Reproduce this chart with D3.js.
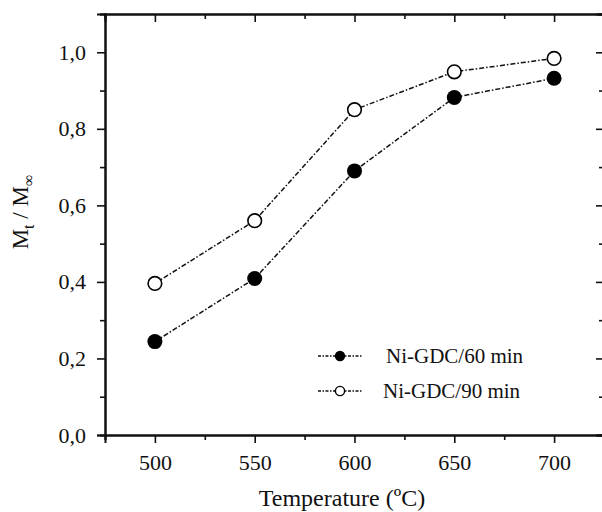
<!DOCTYPE html>
<html>
<head>
<meta charset="utf-8">
<script src="https://cdn.jsdelivr.net/npm/d3@7"></script>
<style>
  html, body { margin: 0; padding: 0; background: #fff; }
  svg text { font-family: "Liberation Serif", "Times New Roman", serif; fill: #111; }
</style>
</head>
<body>
<svg id="chart" width="602" height="512"></svg>
<script>
// Reduction degree vs. temperature for two holding times
const temperatures = [500, 550, 600, 650, 700];
const series60 = [0.244, 0.409, 0.69, 0.882, 0.932];
const series90 = [0.396, 0.56, 0.85, 0.949, 0.984];
const xTicks = [500, 550, 600, 650, 700];
const xMinorTicks = [475, 525, 575, 625, 675, 725];
const yTicks = [0, 0.2, 0.4, 0.6, 0.8, 1.0];
const yMinorTicks = [0.1, 0.3, 0.5, 0.7, 0.9, 1.1];
const legendLabels = ["Ni-GDC/60 min", "Ni-GDC/90 min"];

const svg = d3.select("#chart");
const m = { left: 105, right: 604, top: 14, bottom: 435 };

const x = d3.scaleLinear().domain([475, 725]).range([m.left, m.right]);
const y = d3.scaleLinear().domain([0, 1.1]).range([m.bottom, m.top]);

const fmt = d => d3.format(".1f")(d).replace(".", ",");
const axisW = 2;

// Bottom axis (outward ticks, labelled)
const gB = svg.append("g").attr("transform", `translate(0,${m.bottom})`);
gB.call(d3.axisBottom(x).tickValues(xTicks).tickSize(8).tickPadding(11).tickFormat(d3.format("d")));
gB.append("g").call(d3.axisBottom(x).tickValues(xMinorTicks).tickSize(5).tickFormat(""));

// Left axis (outward ticks, labelled)
const gL = svg.append("g").attr("transform", `translate(${m.left},0)`);
gL.call(d3.axisLeft(y).tickValues(yTicks).tickSize(8).tickPadding(11).tickFormat(fmt));
gL.append("g").call(d3.axisLeft(y).tickValues(yMinorTicks).tickSize(5).tickFormat(""));

// Top axis (inward ticks)
const gT = svg.append("g").attr("transform", `translate(0,${m.top})`);
gT.call(d3.axisTop(x).tickValues(xTicks).tickSize(-8).tickFormat(""));
gT.append("g").call(d3.axisTop(x).tickValues(xMinorTicks).tickSize(-5).tickFormat(""));

// Right axis (inward ticks)
const gR = svg.append("g").attr("transform", `translate(${m.right},0)`);
gR.call(d3.axisRight(y).tickValues(yTicks).tickSize(-8).tickFormat(""));
gR.append("g").call(d3.axisRight(y).tickValues(yMinorTicks).tickSize(-5).tickFormat(""));

svg.selectAll(".domain").attr("stroke", "#111").attr("stroke-width", axisW);
svg.selectAll(".tick line").attr("stroke", "#111").attr("stroke-width", 1.6);
svg.selectAll(".tick text").attr("font-size", 22).attr("fill", "#111")
   .style("font-family", "'Liberation Serif', serif");

// Axis titles
svg.append("text")
  .attr("x", 342).attr("y", 506)
  .attr("text-anchor", "middle").attr("font-size", 24)
  .text("Temperature (ºC)");

const yl = svg.append("text")
  .attr("transform", "translate(28,212) rotate(-90)")
  .attr("text-anchor", "middle").attr("font-size", 23);
yl.append("tspan").text("M");
yl.append("tspan").attr("font-size", 16).attr("dy", 6).text("t");
yl.append("tspan").attr("dy", -6).text(" / M");
yl.append("tspan").attr("font-size", 16).attr("dy", 6).text("∞");

// Data series
const dash = "5,2,1.5,2";
const line = d3.line().x((d, i) => x(temperatures[i])).y(d => y(d));

function drawSeries(vals, filled) {
  svg.append("path").datum(vals)
    .attr("d", line).attr("fill", "none")
    .attr("stroke", "#111").attr("stroke-width", 1.5)
    .attr("stroke-dasharray", dash);
  svg.append("g").selectAll("circle").data(vals).join("circle")
    .attr("cx", (d, i) => x(temperatures[i])).attr("cy", d => y(d))
    .attr("r", filled ? 7.5 : 6.8)
    .attr("fill", filled ? "#000" : "#fff")
    .attr("stroke", "#000").attr("stroke-width", filled ? 0 : 1.6);
}
drawSeries(series60, true);
drawSeries(series90, false);

// Legend
const legendRows = [
  { label: legendLabels[0], filled: true, y: 356 },
  { label: legendLabels[1], filled: false, y: 391 }
];
legendRows.forEach(r => {
  svg.append("line")
    .attr("x1", 318).attr("x2", 362).attr("y1", r.y).attr("y2", r.y)
    .attr("stroke", "#111").attr("stroke-width", 1.5)
    .attr("stroke-dasharray", "3,1.5,1.5,1.5");
  svg.append("circle")
    .attr("cx", 340).attr("cy", r.y).attr("r", r.filled ? 5.2 : 4.6)
    .attr("fill", r.filled ? "#000" : "#fff")
    .attr("stroke", "#000").attr("stroke-width", r.filled ? 0 : 1.4);
  svg.append("text")
    .attr("x", r.filled ? 386 : 383).attr("y", r.y + 7)
    .attr("font-size", 21).text(r.label);
});
</script>
</body>
</html>
